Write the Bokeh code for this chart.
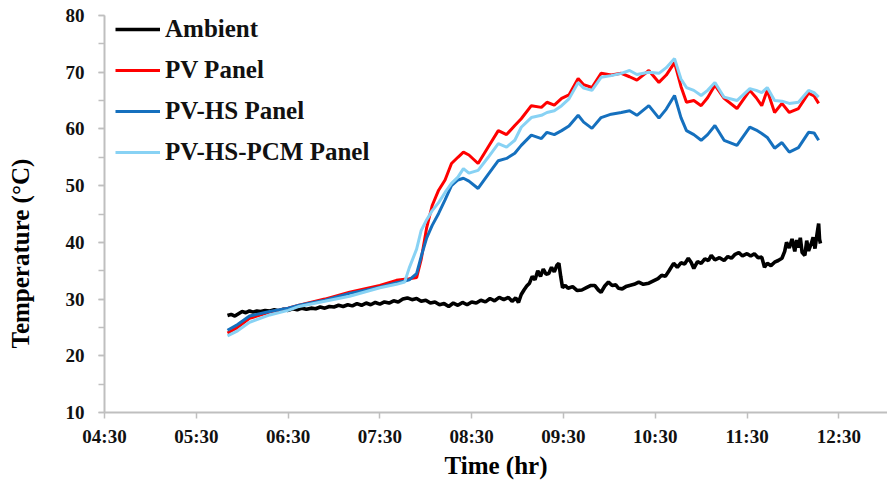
from bokeh.plotting import figure
from bokeh.models import FixedTicker, SingleIntervalTicker, Legend, LegendItem, Range1d, Title
from bokeh.embed import file_html
from bokeh.resources import INLINE

# ---------------- data (time in decimal hours, temperature in degC) ----------------
panel_time = [5.84, 5.95, 6.08, 6.30, 6.50, 6.62, 6.90, 7.17, 7.50, 7.68, 7.77, 7.82,
              7.90, 7.95, 8.01, 8.07, 8.14, 8.21, 8.28, 8.35, 8.41, 8.47, 8.57, 8.68,
              8.79, 8.88, 8.97, 9.04, 9.15, 9.26, 9.32, 9.40, 9.48, 9.56, 9.66, 9.72,
              9.81, 9.91, 10.02, 10.13, 10.22, 10.30, 10.43, 10.54, 10.62, 10.71, 10.78,
              10.84, 10.92, 11.00, 11.07, 11.15, 11.25, 11.39, 11.53, 11.60, 11.66, 11.72,
              11.80, 11.88, 11.96, 12.06, 12.17, 12.23, 12.28]
pv_panel = [24.0, 25.0, 26.6, 27.7, 28.4, 28.9, 30.0, 31.2, 32.4, 33.3, 33.5, 33.6,
            33.8, 37.0, 42.6, 46.5, 49.2, 51.0, 53.9, 55.0, 55.9, 55.4, 53.9, 56.8,
            59.7, 59.0, 60.6, 61.8, 64.1, 63.8, 64.7, 64.2, 65.4, 66.0, 68.9, 67.8,
            67.3, 69.8, 69.5, 69.8, 69.2, 68.6, 70.3, 68.2, 69.5, 71.7, 67.5,
            64.7, 65.0, 64.1, 65.5, 67.7, 65.4, 63.6, 66.8, 65.5, 64.1, 66.8,
            62.9, 64.5, 62.9, 63.6, 66.3, 65.8, 64.5]
pv_hs_panel = [24.5, 25.5, 27.0, 27.8, 28.4, 28.9, 29.8, 31.0, 32.1, 32.9, 33.2, 33.4,
               34.5, 37.5, 40.8, 43.0, 45.1, 47.5, 50.0, 51.0, 51.3, 50.8, 49.5, 52.0,
               54.4, 54.8, 55.7, 57.1, 58.9, 58.3, 59.4, 59.0, 59.7, 60.5, 62.4, 61.2,
               60.1, 62.0, 62.6, 62.9, 63.2, 62.4, 64.1, 61.9, 63.5, 65.9, 62.0,
               59.7, 59.0, 58.0, 59.0, 60.6, 58.0, 57.1, 60.3, 59.8, 59.2, 58.5,
               56.6, 57.6, 55.9, 56.7, 59.4, 59.3, 58.0]
pv_hs_pcm_panel = [23.5, 24.4, 25.9, 27.2, 28.0, 28.7, 29.6, 30.5, 32.0, 32.6, 33.0, 35.5,
                   38.8, 42.1, 44.0, 45.6, 47.0, 48.8, 50.4, 51.5, 53.0, 52.2, 52.7, 55.0,
                   57.4, 56.8, 58.0, 60.3, 62.0, 62.4, 62.9, 63.2, 64.1, 65.3, 68.2, 67.2,
                   66.8, 69.1, 69.4, 69.8, 70.3, 69.6, 70.0, 69.8, 70.8, 72.4, 68.8,
                   67.3, 66.8, 65.9, 66.8, 68.2, 65.6, 65.0, 67.1, 66.8, 66.4, 67.3,
                   65.0, 64.9, 64.5, 64.7, 66.8, 66.4, 65.6]

ambient_time = [5.84, 5.88, 5.92, 5.96, 6.00, 6.04, 6.08, 6.12, 6.16, 6.20, 6.25, 6.30,
                6.35, 6.40, 6.45, 6.50, 6.55, 6.60, 6.65, 6.70, 6.75, 6.80, 6.85, 6.90,
                6.95, 7.00, 7.05, 7.10, 7.15, 7.20, 7.25, 7.30, 7.35, 7.40, 7.45, 7.50,
                7.55, 7.60, 7.65, 7.70, 7.75, 7.80, 7.85, 7.90, 7.95, 8.00, 8.05, 8.10,
                8.15, 8.20, 8.25, 8.30, 8.35, 8.40, 8.45, 8.50, 8.55, 8.60, 8.65, 8.70,
                8.75, 8.80, 8.85, 8.90, 8.94, 8.98, 9.01, 9.04, 9.07, 9.10, 9.13, 9.16,
                9.19, 9.22, 9.25, 9.28, 9.31, 9.34, 9.37, 9.40, 9.43, 9.45, 9.47, 9.49,
                9.52, 9.55, 9.60, 9.65, 9.70, 9.75, 9.80, 9.84, 9.88, 9.91, 9.95, 9.99,
                10.03, 10.07, 10.10, 10.14, 10.18, 10.22, 10.27, 10.32, 10.37, 10.43, 10.48,
                10.53, 10.57, 10.61, 10.65, 10.70, 10.74, 10.78, 10.82, 10.86, 10.89, 10.92,
                10.96, 11.00, 11.04, 11.08, 11.11, 11.15, 11.20, 11.25, 11.29, 11.33, 11.37,
                11.41, 11.45, 11.50, 11.54, 11.58, 11.62, 11.66, 11.69, 11.72, 11.76, 11.80,
                11.84, 11.88, 11.91, 11.93, 11.96, 11.99, 12.02, 12.04, 12.06, 12.08, 12.10,
                12.13, 12.15, 12.17, 12.20, 12.22, 12.24, 12.26, 12.28, 12.29, 12.30]
ambient = [27.1, 27.3, 27.0, 27.4, 27.8, 27.6, 27.9, 27.7, 27.9, 27.8, 28.0, 27.9,
           28.1, 27.9, 28.2, 28.0, 28.3, 28.1, 28.4, 28.2, 28.4, 28.3, 28.6, 28.4,
           28.7, 28.6, 28.9, 28.7, 29.0, 28.8, 29.2, 28.9, 29.3, 29.0, 29.4, 29.1,
           29.5, 29.3, 29.7, 29.5, 30.0, 30.2, 29.9, 30.1, 29.6, 29.8, 29.3, 29.5,
           29.0, 29.2, 28.7, 29.3, 28.9, 29.4, 29.0, 29.5, 29.3, 29.8, 29.5, 30.1,
           29.7, 30.3, 29.9, 30.3, 29.6, 30.2, 29.4, 30.8, 31.6, 32.3, 32.8, 34.0,
           33.4, 35.0, 34.0, 35.3, 34.4, 34.5, 35.6, 34.8, 36.0, 36.3, 34.0, 32.0,
           32.4, 31.9, 32.2, 31.5, 31.6, 32.0, 32.4, 32.4, 31.6, 31.2, 32.3, 33.0,
           32.4, 32.5, 31.9, 31.8, 32.2, 32.4, 32.6, 33.0, 32.6, 32.8, 33.2,
           33.6, 34.2, 34.0, 35.0, 36.3, 35.6, 36.4, 36.2, 37.2, 36.5, 35.4,
           36.6, 36.3, 37.1, 36.8, 37.7, 36.9, 37.3, 36.8, 37.5, 37.2, 37.9,
           38.2, 37.6, 38.0, 37.6, 38.0, 37.3, 37.4, 35.6, 36.3, 35.9, 36.5,
           36.8, 37.2, 38.4, 40.0, 39.0, 40.6, 38.4, 40.4, 39.1, 40.8, 38.2,
           37.7, 40.3, 38.5, 39.8, 40.9, 38.9, 41.2, 43.3, 40.5, 39.8]

x_ticks = [4.5, 5.5, 6.5, 7.5, 8.5, 9.5, 10.5, 11.5, 12.5]
x_tick_labels = ["04:30", "05:30", "06:30", "07:30", "08:30", "09:30", "10:30", "11:30", "12:30"]
series_names = ["Ambient", "PV Panel", "PV-HS Panel", "PV-HS-PCM Panel"]
series_colors = ["#000000", "#FF0000", "#1570BE", "#88D2F4"]

FONT = "Liberation Serif"
AXIS_GRAY = "#BFBFBF"

p = figure(width=887, height=481, output_backend="svg", toolbar_location=None,
           x_range=Range1d(4.5, 13.03), y_range=Range1d(10, 80),
           min_border_left=104, min_border_right=0, min_border_top=15, min_border_bottom=69)
p.outline_line_color = None
p.xgrid.visible = False
p.ygrid.visible = False
p.background_fill_color = "white"
p.border_fill_color = "white"

r_amb = p.line(ambient_time, ambient, line_color=series_colors[0], line_width=3.6)
r_pv = p.line(panel_time, pv_panel, line_color=series_colors[1], line_width=3)
r_hs = p.line(panel_time, pv_hs_panel, line_color=series_colors[2], line_width=3)
r_pcm = p.line(panel_time, pv_hs_pcm_panel, line_color=series_colors[3], line_width=3)

for ax in (p.xaxis[0], p.yaxis[0]):
    ax.axis_line_color = AXIS_GRAY
    ax.axis_line_width = 2
    ax.major_tick_line_color = AXIS_GRAY
    ax.major_tick_line_width = 1.5
    ax.minor_tick_line_color = AXIS_GRAY
    ax.minor_tick_line_width = 1.5
    ax.major_tick_in = 0
    ax.major_tick_out = 6
    ax.minor_tick_in = 0
    ax.minor_tick_out = 6
    ax.major_label_text_font = FONT
    ax.major_label_text_font_style = "bold"
    ax.major_label_text_font_size = "19px"
    ax.major_label_text_color = "#111111"
    ax.axis_label_text_font = FONT
    ax.axis_label_text_font_style = "bold"
    ax.axis_label_text_font_size = "25px"
    ax.axis_label_text_color = "#000000"

p.xaxis.ticker = FixedTicker(ticks=x_ticks, minor_ticks=[])
p.xaxis.major_label_overrides = {t: l for t, l in zip(x_ticks, x_tick_labels)}
p.xaxis.major_label_standoff = 7
p.xaxis.axis_label = "Time (hr)"
p.xaxis.axis_label_standoff = 2

p.yaxis.ticker = SingleIntervalTicker(interval=10, num_minor_ticks=2)
p.yaxis.major_label_standoff = 14
# blank (non-breaking space) axis label only reserves room between tick labels and title
p.yaxis.axis_label = "\u00a0"
p.yaxis.axis_label_text_font_size = "2px"
p.yaxis.axis_label_standoff = 22

# y axis title sits lower than the frame centre in the reference -> side title with offset
ytitle = Title(text="Temperature (°C)", align="left", offset=64, standoff=4,
               text_font=FONT, text_font_style="bold", text_font_size="25px",
               text_color="#000000")
p.add_layout(ytitle, "left")

legend = Legend(items=[LegendItem(label=n, renderers=[r]) for n, r in
                       zip(series_names, [r_amb, r_pv, r_hs, r_pcm])],
                location=(11, 246), orientation="vertical")
legend.label_text_font = FONT
legend.label_text_font_style = "bold"
legend.label_text_font_size = "25px"
legend.label_text_color = "#111111"
legend.glyph_width = 45
legend.glyph_height = 20
legend.label_height = 20
legend.label_standoff = 5
legend.spacing = 13
legend.padding = 0
legend.margin = 0
legend.border_line_color = None
legend.background_fill_alpha = 0
p.add_layout(legend)

open("out.html", "w").write(file_html(p, INLINE))
